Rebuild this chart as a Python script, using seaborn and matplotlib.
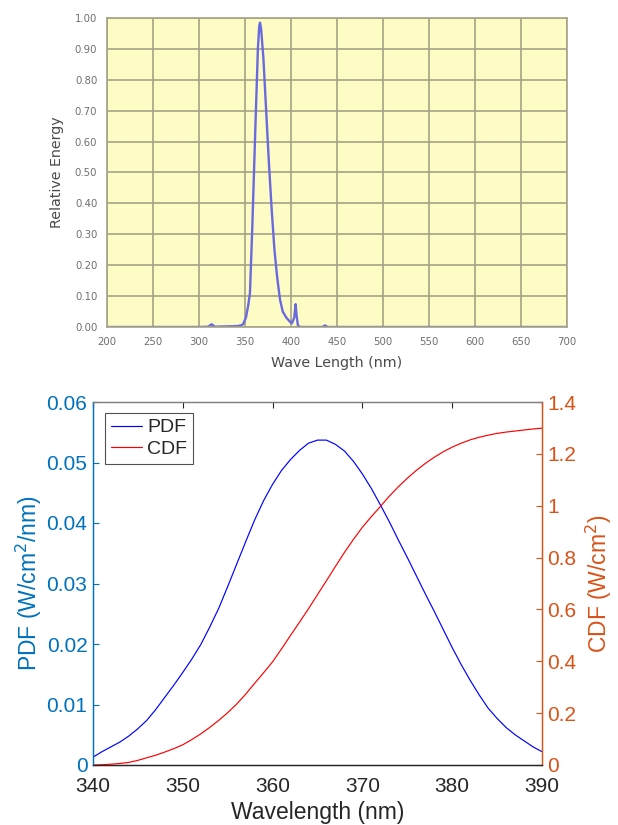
import matplotlib
matplotlib.use("Agg")
import matplotlib.pyplot as plt
import numpy as np
import pandas as pd
import seaborn as sns
from matplotlib.ticker import FormatStrFormatter
from matplotlib.lines import Line2D

# ---------------- data: top spectrum ----------------
spec_nm = [200, 300, 310, 313.8, 317, 330, 342, 346.4, 348, 351, 353.5, 355.4,
           358, 361, 364, 365.5, 366.3, 367.5, 370, 373, 376, 379, 382, 385,
           388, 391, 395, 398.9, 401, 403.5, 405, 406, 407.5, 410, 434, 437,
           440, 700]
spec_val = [0.0, 0.0, 0.001, 0.009, 0.001, 0.002, 0.003, 0.006, 0.010, 0.030,
            0.070, 0.110, 0.330, 0.620, 0.900, 0.975, 0.985, 0.965, 0.870,
            0.700, 0.530, 0.380, 0.250, 0.160, 0.090, 0.050, 0.030, 0.017,
            0.012, 0.030, 0.074, 0.040, 0.005, 0.0, 0.0, 0.005, 0.0, 0.0]

# ---------------- data: bottom PDF / CDF ----------------
wl = [340, 341, 342, 343, 344, 345, 346, 347, 348, 349, 350, 351, 352, 353,
      354, 355, 356, 357, 358, 359, 360, 361, 362, 363, 364, 365, 366, 367,
      368, 369, 370, 371, 372, 373, 374, 375, 376, 377, 378, 379, 380, 381,
      382, 383, 384, 385, 386, 387, 388, 389, 390]
pdf = [0.0013, 0.0022, 0.0030, 0.0038, 0.0048, 0.0060, 0.0074, 0.0092,
       0.0112, 0.0132, 0.0153, 0.0175, 0.0199, 0.0228, 0.0259, 0.0295,
       0.0332, 0.0369, 0.0405, 0.0437, 0.0464, 0.0487, 0.0505, 0.0520,
       0.0532, 0.0537, 0.0537, 0.0530, 0.0519, 0.0502, 0.0481, 0.0457,
       0.0430, 0.0402, 0.0372, 0.0343, 0.0313, 0.0283, 0.0254, 0.0224,
       0.0194, 0.0166, 0.0140, 0.0116, 0.0094, 0.0077, 0.0062, 0.0050,
       0.0040, 0.0030, 0.0022]
cdf = [0.000, 0.001, 0.003, 0.006, 0.010, 0.018, 0.028, 0.038, 0.050, 0.063,
       0.078, 0.098, 0.120, 0.145, 0.172, 0.202, 0.235, 0.273, 0.315, 0.356,
       0.398, 0.448, 0.500, 0.551, 0.603, 0.657, 0.711, 0.766, 0.820, 0.870,
       0.917, 0.958, 0.997, 1.037, 1.073, 1.106, 1.136, 1.163, 1.187, 1.208,
       1.226, 1.241, 1.254, 1.264, 1.272, 1.279, 1.284, 1.288, 1.292, 1.296,
       1.299]

top_xticks = list(range(200, 701, 50))
top_yticks = [round(0.1 * i, 2) for i in range(11)]
bot_xticks = [340, 350, 360, 370, 380, 390]
pdf_ticks = [0, 0.01, 0.02, 0.03, 0.04, 0.05, 0.06]
pdf_labels = ["0", "0.01", "0.02", "0.03", "0.04", "0.05", "0.06"]
cdf_ticks = [0, 0.2, 0.4, 0.6, 0.8, 1, 1.2, 1.4]
cdf_labels = ["0", "0.2", "0.4", "0.6", "0.8", "1", "1.2", "1.4"]

sns.set_style("white")
plt.rcParams["font.family"] = ["DejaVu Sans"]

fig = plt.figure(figsize=(6.18, 8.25), dpi=100)

# ================= top chart =================
ax1 = fig.add_axes([107 / 618, 1 - 327 / 825, 460 / 618, 309 / 825])
ax1.set_facecolor("#fdfcc4")
grid_c = "#a6a386"
ax1.set_axisbelow(True)
ax1.grid(True, color=grid_c, linewidth=1.2)
sns.lineplot(x=spec_nm, y=spec_val, ax=ax1, color="#6a6ae0", linewidth=1.7,
             estimator=None, sort=False)
ax1.set_xlim(200, 700)
ax1.set_ylim(0, 1.0)
ax1.set_xticks(top_xticks)
ax1.set_yticks(top_yticks)
ax1.yaxis.set_major_formatter(FormatStrFormatter("%.2f"))
ax1.tick_params(axis="both", length=0, labelsize=7.3, colors="#6e6e6e", pad=7)
for s in ax1.spines.values():
    s.set_color(grid_c)
    s.set_linewidth(1.2)
ax1.set_xlabel("Wave Length (nm)", fontsize=10.3, color="#4a4a4a", labelpad=7)
ax1.set_ylabel("Relative Energy", fontsize=10.3, color="#4a4a4a", labelpad=8)

# ================= bottom chart =================
mfont = ["Liberation Sans", "DejaVu Sans"]
blue_c = "#0072BD"
orange_c = "#D95319"
dark = "#262626"

ax2 = fig.add_axes([93 / 618, 1 - 765 / 825, 449 / 618, 363 / 825])
ax3 = ax2.twinx()

sns.lineplot(x=wl, y=pdf, ax=ax2, color="#0000ff", linewidth=0.85,
             estimator=None)
sns.lineplot(x=wl, y=cdf, ax=ax3, color="#ff0000", linewidth=0.85,
             estimator=None)

ax2.set_xlim(340, 390)
ax2.set_ylim(0, 0.06)
ax3.set_ylim(0, 1.4)
ax2.set_xticks(bot_xticks)
ax2.set_yticks(pdf_ticks)
ax3.set_yticks(cdf_ticks)
ax2.set_xticklabels([str(v) for v in bot_xticks], fontfamily=mfont)
ax2.set_yticklabels(pdf_labels, fontfamily=mfont)
ax3.set_yticklabels(cdf_labels, fontfamily=mfont)

ax2.tick_params(axis="x", direction="in", length=4, width=0.8, colors=dark,
                labelsize=15, top=True, pad=9)
ax2.tick_params(axis="y", direction="in", length=4, width=0.8,
                colors=blue_c, labelsize=15, pad=4)
ax3.tick_params(axis="y", direction="in", length=4, width=0.8,
                colors=orange_c, labelsize=15, pad=4)

for ax in (ax2, ax3):
    ax.spines["top"].set_color("#808080")
    ax.spines["bottom"].set_color(dark)
    ax.spines["left"].set_color(blue_c)
    ax.spines["right"].set_color(orange_c)
    for s in ax.spines.values():
        s.set_linewidth(0.9)

ax2.set_xlabel("Wavelength (nm)", fontsize=16.5, color=dark,
               fontfamily=mfont, labelpad=3)
ax2.set_ylabel("PDF (W/cm$^2$/nm)", fontsize=16.5, color=blue_c,
               fontfamily=mfont, labelpad=2)
ax3.set_ylabel("CDF (W/cm$^2$)", fontsize=16.5, color=orange_c,
               fontfamily=mfont, rotation=90, labelpad=5)

handles = [Line2D([], [], color="#0000ff", lw=0.85),
           Line2D([], [], color="#ff0000", lw=0.85)]
leg = ax3.legend(handles, ["PDF", "CDF"], loc="upper left",
                 bbox_to_anchor=(0.026, 0.97), prop={"family": mfont, "size": 14},
                 frameon=True, fancybox=False, borderpad=0.3,
                 handlelength=1.6, handletextpad=0.3, labelspacing=0.2,
                 borderaxespad=0)
leg.get_frame().set_edgecolor(dark)
leg.get_frame().set_linewidth(0.8)

fig.savefig("out.png", dpi=100)
